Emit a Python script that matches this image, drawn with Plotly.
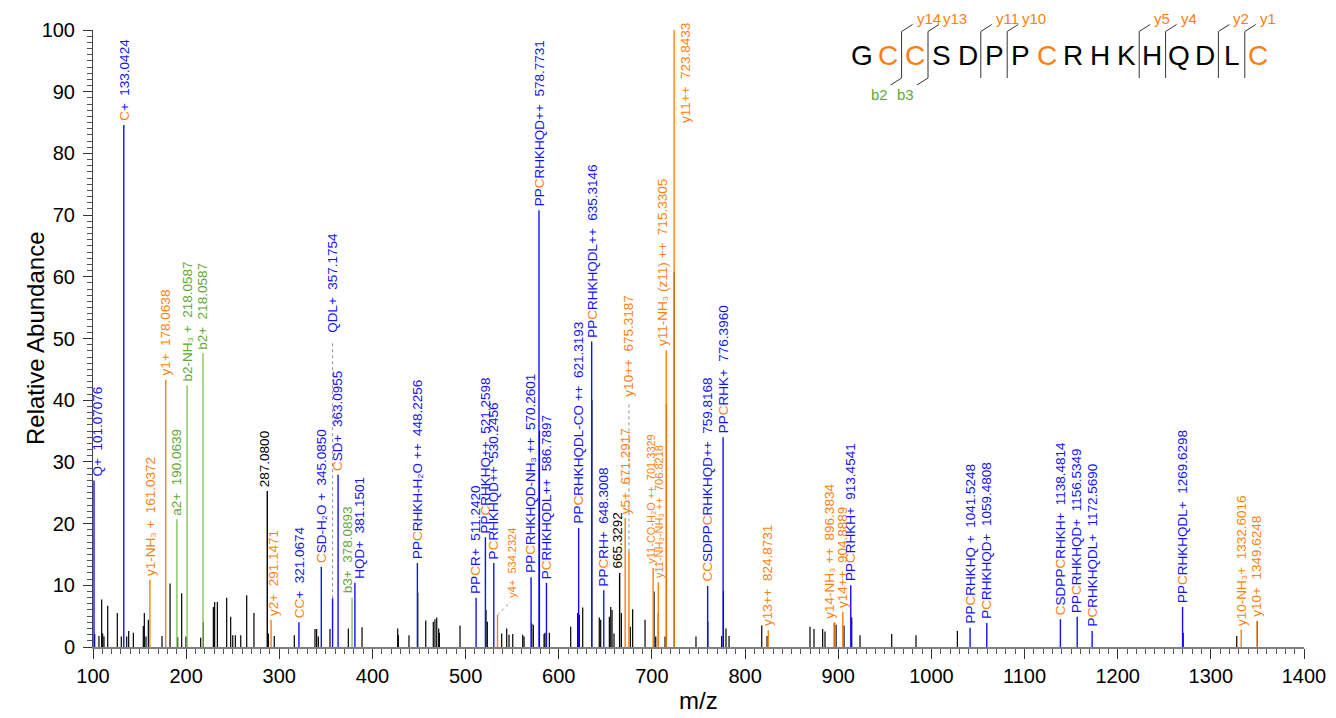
import plotly.graph_objects as go

# ---------------- data ----------------
# unassigned peaks (m/z, relative abundance)
bg_mz = [101.8, 106.4, 109.3, 110.4, 111.8, 115.8, 126.1, 130.4, 136.2, 138.3,
         143.3, 154.0, 155.1, 156.9, 159.4, 174.1, 182.7, 190.9, 195.2, 199.8,
         215.6, 218.4, 229.2, 230.6, 233.5, 243.5, 247.8, 250.0, 252.8, 258.6,
         265.0, 272.8, 288.2, 294.6, 316.1, 338.3, 340.1, 341.9, 354.4, 374.1,
         388.8, 427.1, 427.8, 439.2, 448.6, 457.2, 465.3, 467.1, 469.0, 471.1,
         471.8, 494.0, 521.9, 523.3, 538.7, 544.1, 546.6, 550.6, 561.3, 562.7,
         571.0, 572.7, 579.3, 584.2, 585.2, 589.9, 612.8, 620.3, 622.1, 625.7,
         635.5, 643.5, 645.0, 654.3, 655.8, 657.2, 659.3, 667.2, 676.8, 679.3,
         692.6, 702.3, 704.1, 706.9, 714.1, 715.6, 724.0, 747.3, 760.0, 774.9,
         776.8, 779.5, 782.8, 817.9, 823.6, 869.7, 874.0, 883.3, 885.8, 895.8,
         897.7, 906.2, 914.5, 923.4, 957.4, 983.5, 1027.9, 1270.3, 1327.8, 1350.0]
bg_int = [2.1, 1.8, 7.7, 2.2, 1.7, 6.7, 5.5, 1.7, 1.7, 2.6,
          2.3, 3.4, 5.5, 1.7, 4.4, 1.8, 10.3, 1.6, 8.7, 1.7,
          1.5, 4.0, 6.5, 7.3, 7.3, 8.0, 4.9, 1.9, 1.9, 1.9,
          8.4, 5.5, 2.2, 1.8, 1.9, 2.9, 2.9, 1.7, 2.9, 3.0,
          3.2, 3.0, 1.9, 1.9, 8.8, 4.3, 4.1, 4.5, 4.8, 3.0,
          2.3, 3.5, 6.0, 4.1, 2.2, 3.0, 2.0, 2.1, 2.0, 1.7,
          3.8, 3.6, 35.0, 2.1, 2.3, 2.3, 3.3, 5.5, 5.2, 6.4,
          40.0, 4.8, 4.4, 4.9, 6.5, 6.0, 2.2, 5.5, 3.3, 6.1,
          4.4, 9.0, 1.7, 5.5, 1.7, 39.4, 60.8, 1.7, 4.1, 1.8,
          9.1, 3.0, 1.8, 3.5, 1.8, 3.3, 2.9, 2.9, 2.5, 3.9,
          3.6, 3.5, 4.8, 1.9, 2.1, 1.9, 2.6, 2.3, 1.8, 4.2]

# assigned ions; [C] marks a cysteine residue in the ion name
ion_name = ["Q+", "[C]+", "y1-NH₃ +", "y1+", "a2+", "b2-NH₃ +", "b2+",
            "", "y2+", "[C][C]+", "[C]SD-H₂O +", "QDL+", "[C]SD+", "b3+", "HQD+",
            "PP[C]RHKH-H₂O ++", "PP[C]R+", "PP[C]RHKHQ++", "P[C]RHKHQD++", "y4+",
            "PP[C]RHKHQD-NH₃ ++", "PP[C]RHKHQD++", "P[C]RHKHQDL++",
            "PP[C]RHKHQDL-CO ++", "PP[C]RHKHQDL++", "PP[C]RH+", "", "y5+", "y10++",
            "y11-CO-H₂O ++", "y11-NH₃-NH₃ ++",
            "y11-NH₃ (z11) ++", "y11++", "[C][C]SDPP[C]RHKHQD++", "PP[C]RHK+",
            "y13++", "y14-NH₃ ++", "y14++", "PP[C]RHKH+", "PP[C]RHKHQ +",
            "P[C]RHKHQD+", "[C]SDPP[C]RHKH+", "PP[C]RHKHQD+", "P[C]RHKHQDL+",
            "PP[C]RHKHQDL+", "y10-NH₃+", "y10+"]
ion_mz = [101.07076, 133.0424, 161.0372, 178.0638, 190.0639, 201.0322, 218.0587,
          287.0800, 291.1471, 321.0674, 345.0850, 357.1754, 363.0955, 378.0893, 381.1501,
          448.2256, 511.2420, 521.2598, 530.2456, 534.2324,
          570.2601, 578.7731, 586.7897,
          621.3193, 635.3146, 648.3008, 665.3292, 671.2917, 675.3187,
          701.3329, 706.8218,
          715.3305, 723.8433, 759.8168, 776.3960,
          824.8731, 896.3834, 904.8889, 913.4541, 1041.5248,
          1059.4808, 1138.4814, 1156.5349, 1172.5690,
          1269.6298, 1332.6016, 1349.6248]
ion_mz_text = ["101.07076", "133.0424", "161.0372", "178.0638", "190.0639", "218.0587", "218.0587",
               "287.0800", "291.1471", "321.0674", "345.0850", "357.1754", "363.0955", "378.0893", "381.1501",
               "448.2256", "511.2420", "521.2598", "530.2456", "534.2324",
               "570.2601", "578.7731", "586.7897",
               "621.3193", "635.3146", "648.3008", "665.3292", "671.2917", "675.3187",
               "701.3329", "706.8218",
               "715.3305", "723.8433", "759.8168", "776.3960",
               "824.8731", "896.3834", "904.8889", "913.4541", "1041.5248",
               "1059.4808", "1138.4814", "1156.5349", "1172.5690",
               "1269.6298", "1332.6016", "1349.6248"]
ion_int = [27.0, 84.6, 10.9, 43.3, 20.7, 42.4, 47.6,
           25.3, 4.4, 4.0, 13.0, 7.9, 27.9, 8.0, 10.4,
           13.6, 8.0, 17.8, 13.6, 5.2,
           11.3, 70.8, 10.4,
           19.3, 49.5, 9.2, 12.0, 20.9, 15.5,
           12.8, 10.5,
           48.1, 100.0, 9.9, 34.0,
           2.7, 4.0, 5.7, 10.0, 3.1,
           3.9, 4.5, 4.9, 2.6,
           6.5, 2.8, 4.2]
ion_type = ["int", "int", "y", "y", "b", "b", "b",
            "none", "y", "int", "int", "int", "int", "b", "int",
            "int", "int", "int", "int", "y",
            "int", "int", "int",
            "int", "int", "int", "none", "y", "y",
            "y", "y",
            "y", "y", "int", "int",
            "y", "y", "y", "int", "int",
            "int", "int", "int", "int",
            "int", "y", "y"]

# label placement tweaks: horizontal pixel shift, raised label base (abundance), font size
label_dx = {"Q+": 3, "b3+": -5, "HQD+": 5, "y2+": 3, "y14-NH₃ ++": -5,
            "y11-CO-H₂O ++": -3, "y11-NH₃ (z11) ++": -3,
            "y11++": 12, "": -2}
label_base = {"QDL+": 50.2, "y10++": 40.0, "y11++": 84.3, "y4+": 7.3}
small_labels = {"y4+", "y11-CO-H₂O ++", "y11-NH₃-NH₃ ++"}

sequence = "GCCSDPPCRHKHQDLC"
y_cuts = {2: "y14", 3: "y13", 5: "y11", 6: "y10", 11: "y5", 12: "y4", 14: "y2", 15: "y1"}
b_cuts = {2: "b2", 3: "b3"}

# ---------------- style ----------------
BLUE = "#1010ff"
ORANGE = "#ff7f0e"
GREEN_LINE = "#86c35e"
GREEN_TXT = "#5fa833"
BLACK = "#000000"
FONT = "Liberation Sans, Arial, sans-serif"
line_color = {"int": BLUE, "y": ORANGE, "b": GREEN_LINE, "none": BLACK}
text_color = {"int": BLUE, "y": ORANGE, "b": GREEN_TXT, "none": BLACK}

X0, X1, Y0, Y1 = 93, 1304, 647, 30   # plot-area pixel box
MZ_MIN, MZ_MAX = 100, 1400


def px_x(p):
    return (p - X0) / (X1 - X0)


def px_y(p):
    return (Y0 - p) / (Y0 - Y1)


def sticks(xs, ys):
    sx, sy = [], []
    for x, y in zip(xs, ys):
        sx += [x, x, None]
        sy += [0, y, None]
    return sx, sy


fig = go.Figure()

bx, by = sticks(bg_mz, bg_int)
fig.add_trace(go.Scatter(x=bx, y=by, mode="lines", line=dict(color=BLACK, width=1.2),
                         hoverinfo="skip", showlegend=False))

for kind in ["none", "b", "y", "int"]:
    xs = [m for m, t in zip(ion_mz, ion_type) if t == kind]
    ys = [v for v, t in zip(ion_int, ion_type) if t == kind]
    sx, sy = sticks(xs, ys)
    fig.add_trace(go.Scatter(x=sx, y=sy, mode="lines",
                             line=dict(color=line_color[kind], width=1.4),
                             hoverinfo="skip", showlegend=False))


def rich(name):
    return name.replace("[C]", f"<span style='color:{ORANGE}'>C</span>")


annotations = []
shapes = []
NB = "\u00a0"
LEADER = dict(color="#909090", width=1, dash="3px,3px")
for name, mz, txt, val, kind in zip(ion_name, ion_mz, ion_mz_text, ion_int, ion_type):
    label = (rich(name) + NB + NB + txt) if name else txt
    base = label_base.get(name, val)
    x_lab = mz
    if name == "y4+":
        x_lab = mz + 15.3
        shapes.append(dict(type="line", xref="x", yref="y", x0=mz, y0=val, x1=mz + 14.0, y1=base,
                           line=LEADER))
    elif name in ("QDL+", "y10++"):
        shapes.append(dict(type="line", xref="x", yref="y", x0=mz, y0=val, x1=mz, y1=base - 0.6,
                           line=LEADER))
    size = 11 if name in small_labels else 13.5
    annotations.append(dict(
        x=x_lab, y=base, xref="x", yref="y", text=label, showarrow=False,
        textangle=-90, xanchor="center", yanchor="bottom",
        xshift=label_dx.get(name, 0), yshift=2,
        font=dict(family=FONT, size=size, color=text_color[kind]),
    ))

# ---- peptide sequence with fragment cleavage marks ----
SEQ_X, SEQ_DX, SEQ_Y = 862, 26.4, 55
for i, aa in enumerate(sequence):
    annotations.append(dict(
        x=px_x(SEQ_X + i * SEQ_DX), y=px_y(SEQ_Y), xref="paper", yref="paper",
        text=aa, showarrow=False, xanchor="center", yanchor="middle",
        font=dict(family=FONT, size=28, color=ORANGE if aa == "C" else BLACK),
    ))

MARK = dict(color="#333333", width=1)
for pos in sorted(set(y_cuts) | set(b_cuts)):
    cx = SEQ_X + (pos - 0.5) * SEQ_DX
    shapes.append(dict(type="line", xref="paper", yref="paper",
                       x0=px_x(cx), y0=px_y(78), x1=px_x(cx), y1=px_y(31.5), line=MARK))
    if pos in y_cuts:
        shapes.append(dict(type="line", xref="paper", yref="paper",
                           x0=px_x(cx), y0=px_y(31.5), x1=px_x(cx + 11), y1=px_y(24.5), line=MARK))
        annotations.append(dict(
            x=px_x(cx + 13), y=px_y(18), xref="paper", yref="paper", text=y_cuts[pos],
            showarrow=False, xanchor="left", yanchor="middle",
            font=dict(family=FONT, size=15, color=ORANGE)))
    if pos in b_cuts:
        shapes.append(dict(type="line", xref="paper", yref="paper",
                           x0=px_x(cx), y0=px_y(78), x1=px_x(cx - 11), y1=px_y(85), line=MARK))
        annotations.append(dict(
            x=px_x(cx - 12), y=px_y(95), xref="paper", yref="paper", text=b_cuts[pos],
            showarrow=False, xanchor="right", yanchor="middle",
            font=dict(family=FONT, size=15, color=GREEN_TXT)))

# axis titles
annotations.append(dict(x=px_x(35), y=px_y(338), xref="paper", yref="paper",
                        text="Relative Abundance", showarrow=False, textangle=-90,
                        xanchor="center", yanchor="middle",
                        font=dict(family=FONT, size=24, color="black")))
annotations.append(dict(x=px_x(698), y=px_y(700), xref="paper", yref="paper",
                        text="m/z", showarrow=False, xanchor="center", yanchor="middle",
                        font=dict(family=FONT, size=24, color="black")))

fig.update_layout(
    width=1336, height=718,
    margin=dict(l=X0, r=1336 - X1, t=Y1, b=718 - Y0, pad=0),
    paper_bgcolor="white", plot_bgcolor="white",
    annotations=annotations, shapes=shapes,
    showlegend=False,
    xaxis=dict(
        range=[MZ_MIN, MZ_MAX], dtick=100, tick0=0,
        showgrid=False, zeroline=False,
        showline=True, linecolor="#808080", linewidth=2,
        ticks="outside", ticklen=10, tickwidth=1, tickcolor="#333333",
        minor=dict(dtick=10, ticks="outside", ticklen=5, tickcolor="#555555", showgrid=False),
        tickfont=dict(family=FONT, size=20, color="black"),
        automargin=False,
    ),
    yaxis=dict(
        range=[0, 100], dtick=10,
        showgrid=False, zeroline=False,
        showline=True, linecolor="#444444", linewidth=1,
        ticks="outside", ticklen=9, tickwidth=1, tickcolor="#333333",
        ticklabelstandoff=4,
        minor=dict(dtick=1, ticks="outside", ticklen=5, tickcolor="#555555", showgrid=False),
        tickfont=dict(family=FONT, size=20, color="black"),
        automargin=False,
    ),
)

fig.write_html("out.html")
